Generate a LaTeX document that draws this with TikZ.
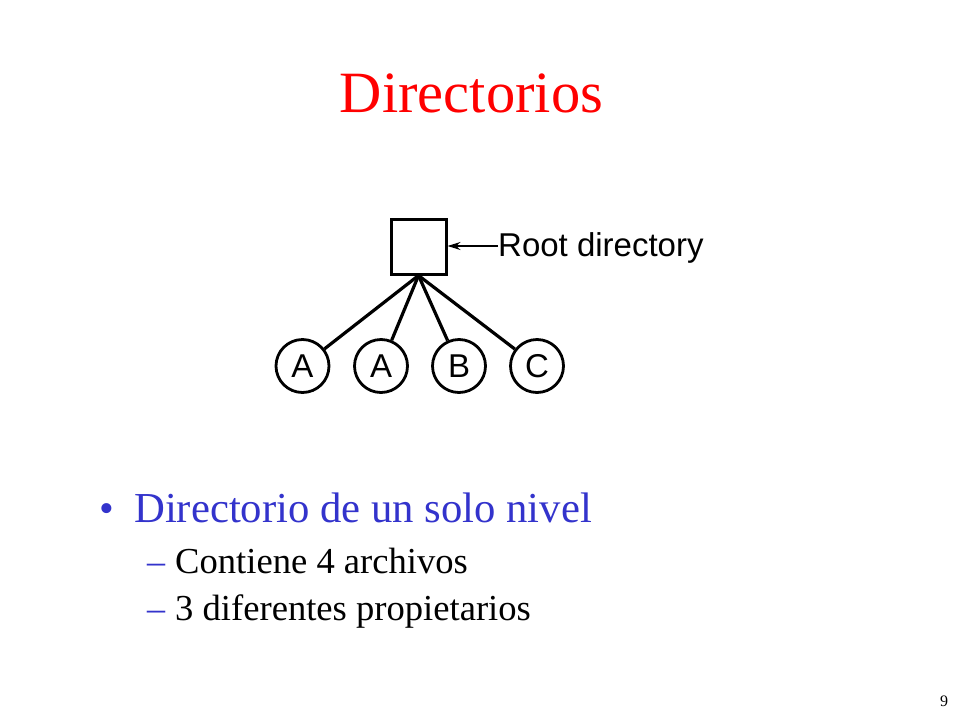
\documentclass[tikz,border=0pt]{standalone}
\usepackage{fontspec}
\setmainfont{Liberation Serif}
\setsansfont{Liberation Sans}
\usetikzlibrary{arrows.meta}
\definecolor{titlered}{RGB}{255,0,0}
\definecolor{bulletblue}{RGB}{51,51,204}
\begin{document}
\begin{tikzpicture}[x=1pt,y=-1pt,
  fsans/.style={font=\sffamily\fontsize{33}{36}\selectfont},
  rootbox/.style={draw,line width=3pt,minimum width=55pt,minimum height=55pt,inner sep=0pt},
  filecirc/.style={draw,circle,line width=2.8pt,minimum size=53pt,inner sep=0pt,fsans},
  link/.style={line width=3.2pt},
  pointer/.style={line width=1.6pt,-{Stealth[length=13pt,width=8pt]}},
  txt/.style={anchor=base west,inner sep=0pt}]
\useasboundingbox (0,0) rectangle (960,720);
\fill[white] (0,0) rectangle (960,720);
% title
\node[anchor=base,inner sep=0pt,text=titlered,font=\fontsize{58.5}{62}\selectfont] (title) at (471.5,112) {Directorios};
% diagram
\node[rootbox] (root) at (418.5,246.5) {};
\coordinate (hub) at (root.south);
\node[filecirc] (f1) at (302.5,366) {A};
\node[filecirc] (f2) at (381,366) {A};
\node[filecirc] (f3) at (459,366) {B};
\node[filecirc] (f4) at (537,366) {C};
\foreach \n in {f1,f2,f3,f4} \draw[link] (hub) -- (\n);
\node[txt,fsans] (rootlbl) at (498,256) {Root directory};
\draw[pointer] (rootlbl.west |- 0,246) -- (root.east |- 0,246);
% bullets
\node[txt,text=bulletblue,font=\fontsize{42}{46}\selectfont] (b1mark) at (99,522) {\textbullet};
\node[txt,text=bulletblue,font=\fontsize{42.7}{46}\selectfont] (b1) at (134,522) {Directorio de un solo nivel};
\node[txt,text=bulletblue,font=\fontsize{36}{40}\selectfont] (s1mark) at (147,573) {–};
\node[txt,font=\fontsize{36.6}{40}\selectfont] (s1) at (175,573) {Contiene 4 archivos};
\node[txt,text=bulletblue,font=\fontsize{36}{40}\selectfont] (s2mark) at (147,620) {–};
\node[txt,font=\fontsize{36.6}{40}\selectfont] (s2) at (175,620) {3 diferentes propietarios};
% page number
\node[txt,font=\fontsize{16}{18}\selectfont] (pg) at (940,706) {9};
\end{tikzpicture}
\end{document}
